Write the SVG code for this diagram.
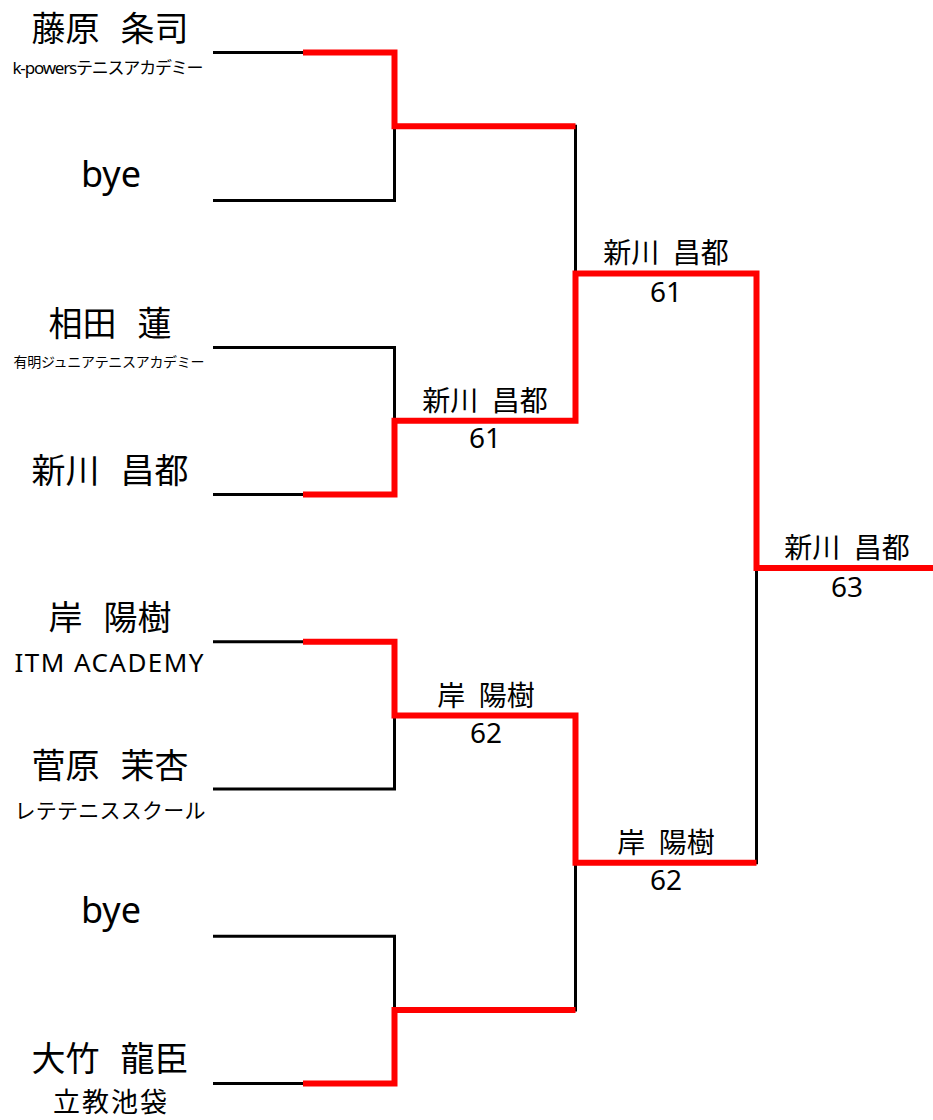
<svg xmlns="http://www.w3.org/2000/svg" width="933" height="1120" viewBox="0 0 933 1120">
<style>
text{font-family:"Noto Sans","Noto Sans CJK JP",sans-serif;fill:#000;text-anchor:middle}
.nm{font-size:34px;word-spacing:12px}
.bye{font-size:36px}
.lb{font-size:28px;word-spacing:6px}
.sc{font-size:28px}
.blk{fill:none;stroke:#000;stroke-width:3;stroke-linejoin:miter}
.red{fill:none;stroke:#ff0000;stroke-width:6;stroke-linejoin:miter}
</style>
<rect width="933" height="1120" fill="#fff"/>
<g id="connectors">
<path class="blk" d="M213,52.5H394.5V200.5H213"/>
<path class="blk" d="M213,347.5H394.5V494.5H213"/>
<path class="blk" d="M213,641.7H394.5V789H213"/>
<path class="blk" d="M213,936.3H394.5V1083.6H213"/>
<path class="blk" d="M394.5,126.2H575.5V420.8H394.5"/>
<path class="blk" d="M394.5,715.4H575.5V1010H394.5"/>
<path class="blk" d="M575.5,273.5H756.5V862.7H575.5"/>
<path class="red" d="M303,52.5H394.5V126.2H575.5"/>
<path class="red" d="M303,494.5H394.5V420.8H575.5V273.5H756.5V568H933"/>
<path class="red" d="M303,641.7H394.5V715.4H575.5V862.7H756.5"/>
<path class="red" d="M303,1083.6H394.5V1010H575.5"/>
</g>
<g id="p1">
<text class="nm" x="110" y="40.5">藤原 条司</text>
<text x="108" y="74" font-size="17" textLength="191" lengthAdjust="spacing">k-powersテニスアカデミー</text>
</g>
<g id="p2">
<text class="bye" x="111" y="187">bye</text>
</g>
<g id="p3">
<text class="nm" x="110" y="335.5">相田 蓮</text>
<text x="109" y="367" font-size="14" textLength="191" lengthAdjust="spacing">有明ジュニアテニスアカデミー</text>
</g>
<g id="p4">
<text class="nm" x="110" y="482.5">新川 昌都</text>
</g>
<g id="p5">
<text class="nm" x="110" y="629.5">岸 陽樹</text>
<text x="109" y="672" font-size="26" textLength="189" lengthAdjust="spacing">ITM ACADEMY</text>
</g>
<g id="p6">
<text class="nm" x="110" y="777.5">菅原 茉杏</text>
<text x="110" y="818" font-size="21" textLength="191" lengthAdjust="spacing">レテテニススクール</text>
</g>
<g id="p7">
<text class="bye" x="111" y="922.5">bye</text>
</g>
<g id="p8">
<text class="nm" x="110" y="1070.5">大竹 龍臣</text>
<text x="110" y="1112" font-size="27" textLength="114" lengthAdjust="spacing">立教池袋</text>
</g>
<g id="w1">
<text class="lb" x="485" y="411">新川 昌都</text>
<text class="sc" x="485" y="448">61</text>
</g>
<g id="w2">
<text class="lb" x="486" y="706">岸 陽樹</text>
<text class="sc" x="486" y="743">62</text>
</g>
<g id="w3">
<text class="lb" x="666" y="263">新川 昌都</text>
<text class="sc" x="666" y="302">61</text>
</g>
<g id="w4">
<text class="lb" x="666" y="853">岸 陽樹</text>
<text class="sc" x="666" y="890">62</text>
</g>
<g id="champion">
<text class="lb" x="847" y="558">新川 昌都</text>
<text class="sc" x="847" y="597">63</text>
</g>
</svg>
